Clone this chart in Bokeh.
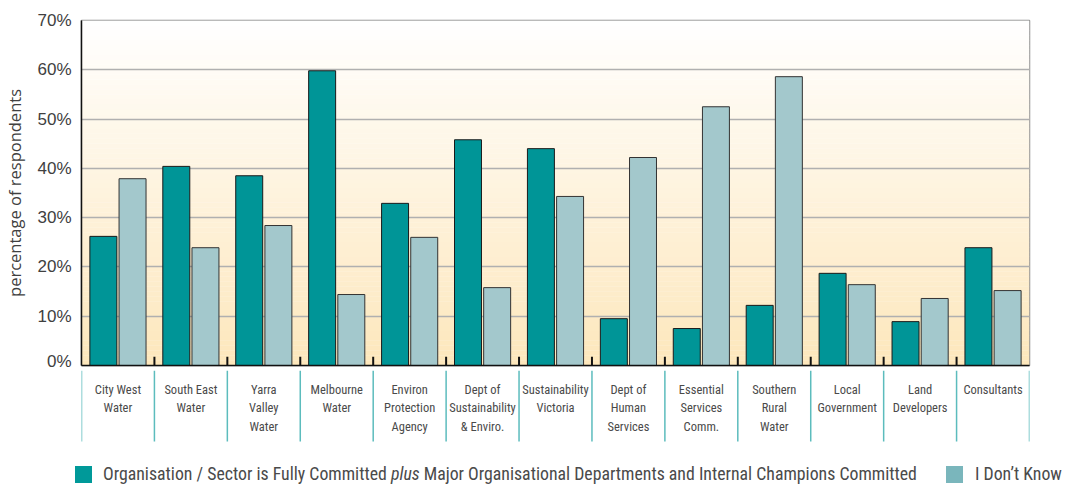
from bokeh.plotting import figure
from bokeh.layouts import column
from bokeh.models import Range1d, FixedTicker, PrintfTickFormatter, ColumnDataSource, Div
from bokeh.core.properties import value
from bokeh.embed import file_html
from bokeh.resources import INLINE

categories = ["City West\nWater", "South East\nWater", "Yarra\nValley\nWater", "Melbourne\nWater",
              "Environ\nProtection\nAgency", "Dept of\nSustainability\n& Enviro.",
              "Sustainability\nVictoria", "Dept of\nHuman\nServices", "Essential\nServices\nComm.",
              "Southern\nRural\nWater", "Local\nGovernment", "Land\nDevelopers", "Consultants"]
committed = [26.2, 40.4, 38.5, 59.8, 32.9, 45.8, 44.0, 9.5, 7.5, 12.2, 18.7, 8.9, 23.9]
dont_know = [37.9, 23.9, 28.4, 14.4, 26.0, 15.8, 34.3, 42.2, 52.5, 58.6, 16.4, 13.6, 15.2]
y_ticks = [0, 10, 20, 30, 40, 50, 60, 70]
series_names = ["Organisation / Sector is Fully Committed", "plus",
                "Major Organisational Departments and Internal Champions Committed", "I Don\u2019t Know"]

TEAL = "#009597"
LIGHT = "#a3c8cc"
TEXT = "#4a4a4a"
COND = "'Roboto Condensed', Roboto"
n = len(categories)
centers = [i + 0.5 for i in range(n)]
W = 1075
LB, RB = 80, 46

# ---------------- main chart ----------------
p = figure(width=W, height=370, output_backend="svg", toolbar_location=None,
           x_range=Range1d(0, n), y_range=Range1d(0, 70),
           min_border_left=LB, min_border_right=RB, min_border_top=20, min_border_bottom=5)
p.background_fill_color = "white"
p.border_fill_color = "white"
p.outline_line_color = "#909090"
p.outline_line_width = 1.5
p.xgrid.visible = False
p.ygrid.ticker = FixedTicker(ticks=y_ticks)
p.ygrid.grid_line_color = "#b0b0b0"
p.ygrid.grid_line_width = 1.3

# background gradient (white at top -> warm cream at bottom)
bands = 70
top_c = (255, 255, 255)
bot_c = (253, 231, 188)
bb, bt, bc = [], [], []
for k in range(bands):
    t = (k + 0.5) / bands
    col = tuple(int(round(bot_c[j] + (top_c[j] - bot_c[j]) * t)) for j in range(3))
    bb.append(70 * k / bands)
    bt.append(70 * (k + 1) / bands + 0.05)
    bc.append("#%02x%02x%02x" % col)
g = p.quad(left=0, right=n, bottom=bb, top=bt, fill_color=bc, line_color=None)
g.level = "image"

src = ColumnDataSource(dict(x1=[c - 0.2 for c in centers], x2=[c + 0.2 for c in centers],
                            a=committed, b=dont_know))
p.vbar(x="x1", top="a", bottom=0, width=0.37, source=src, fill_color=TEAL,
       line_color="#1a1a1a", line_width=1)
p.vbar(x="x2", top="b", bottom=0, width=0.37, source=src, fill_color=LIGHT,
       line_color="#333333", line_width=1)

# short inner tick marks at category boundaries
inner = list(range(1, n))
p.segment(x0=inner, x1=inner, y0=[0] * len(inner), y1=[1.8] * len(inner),
          line_color="#111111", line_width=2)

ya = p.yaxis[0]
ya.ticker = FixedTicker(ticks=y_ticks)
ya.formatter = PrintfTickFormatter(format="%d%%")
ya.major_tick_line_color = None
ya.minor_tick_line_color = None
ya.major_tick_out = 0
ya.major_tick_in = 0
ya.axis_line_color = "#111111"
ya.axis_line_width = 1.5
ya.major_label_text_font = "Liberation Sans"
ya.major_label_text_font_size = "17px"
ya.major_label_text_color = "#404040"
ya.major_label_standoff = 10
ya.axis_label = "percentage of respondents"
ya.axis_label_text_font = "Open Sans"
ya.axis_label_text_font_style = "normal"
ya.axis_label_text_font_size = "16.5px"
ya.axis_label_text_color = "#404040"
ya.axis_label_standoff = 8

xa = p.xaxis[0]
xa.ticker = FixedTicker(ticks=[])
xa.axis_line_color = "#111111"
xa.axis_line_width = 1.5
xa.major_tick_out = 0
xa.major_tick_in = 0
xa.minor_tick_line_color = None
xa.major_label_standoff = 0

# ---------------- category label band ----------------
band = figure(width=W, height=76, output_backend="svg", toolbar_location=None,
              x_range=p.x_range, y_range=Range1d(76, 0),
              min_border_left=LB, min_border_right=RB, min_border_top=0, min_border_bottom=0)
band.axis.visible = False
band.grid.visible = False
band.outline_line_color = None
band.background_fill_color = "white"
band.border_fill_color = "white"
bounds = list(range(0, n + 1))
band.segment(x0=bounds, x1=bounds, y0=[0] * len(bounds), y1=[71] * len(bounds),
             line_color="#5cbcbd", line_width=1.5)
band.text(x=centers, y=[11] * n, text=categories, text_align="center", text_baseline="top",
          text_font=value(COND), text_font_size="12.5px", text_color=TEXT, text_line_height=1.25)

# ---------------- legend ----------------
legend_html = (
    "<div style=\"position:relative;width:1075px;height:42px;"
    "font-family:'Roboto Condensed',Roboto,sans-serif;font-size:17.8px;color:#4a4a4a;\">"
    "<div style=\"position:absolute;left:75px;top:20px;width:17px;height:17px;background:#009999;\"></div>"
    "<div style=\"position:absolute;left:103px;top:18px;line-height:20px;white-space:nowrap;\">"
    f"{series_names[0]} <i>{series_names[1]}</i> {series_names[2]}</div>"
    "<div style=\"position:absolute;left:946px;top:20px;width:17px;height:17px;background:#7ab6bc;\"></div>"
    "<div style=\"position:absolute;left:975px;top:18px;line-height:20px;white-space:nowrap;\">"
    f"{series_names[3]}</div></div>"
)
leg = Div(text=legend_html, width=W, height=42, margin=0)

layout = column(p, band, leg, spacing=0)
open("out.html", "w").write(file_html(layout, INLINE))
